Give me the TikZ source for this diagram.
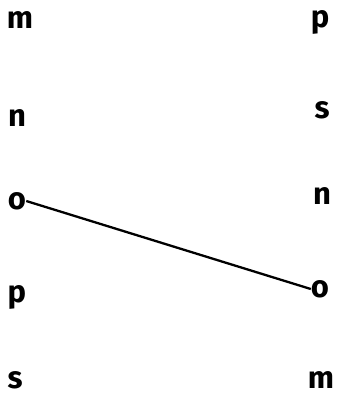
\documentclass[tikz,border=0pt]{standalone}
\usepackage{fontspec}
\setmainfont{Fira Sans}
\begin{document}
\begin{tikzpicture}[x=1pt,y=-1pt,
  lbl/.style={inner sep=0pt, font=\fontsize{31}{31}\selectfont\bfseries},
  conn/.style={line width=2.3pt}]
\useasboundingbox (0,0) rectangle (339,396);
\node[lbl] (l1) at (20,20) {m};
\node[lbl] (l2) at (17,118) {n};
\node[lbl] (l3) at (17,201) {o};
\node[lbl] (l4) at (17,297) {p};
\node[lbl] (l5) at (15,380) {s};
\node[lbl] (r1) at (320,22) {p};
\node[lbl] (r2) at (322,110) {s};
\node[lbl] (r3) at (322,196) {n};
\node[lbl] (r4) at (320,289) {o};
\node[lbl] (r5) at (321,380) {m};
\draw[conn] (l3.east) -- (r4.west);
\end{tikzpicture}
\end{document}
